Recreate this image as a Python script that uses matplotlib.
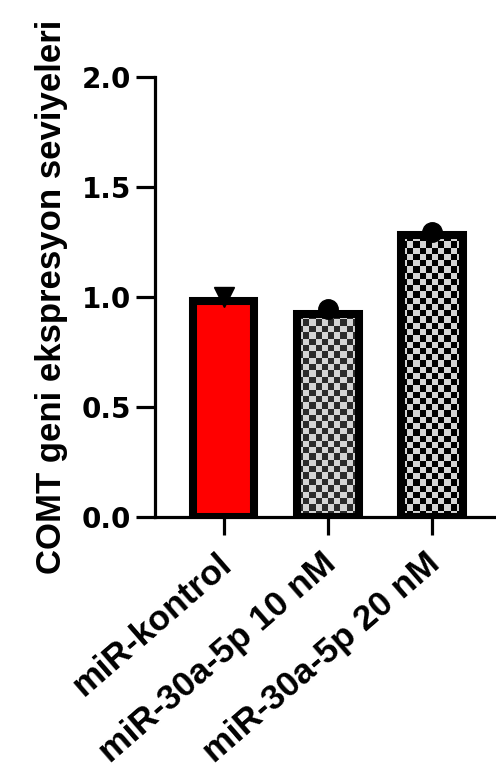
import numpy as np
import matplotlib
matplotlib.use("Agg")
import matplotlib.pyplot as plt
from matplotlib.colors import ListedColormap
from matplotlib.transforms import ScaledTranslation

# data
groups = ["miR-kontrol", "miR-30a-5p 10 nM", "miR-30a-5p 20 nM"]
bar_heights = [0.98, 0.925, 1.28]
points = [1.0, 0.945, 1.295]
point_markers = ["v", "o", "o"]
yticks = [0.0, 0.5, 1.0, 1.5, 2.0]
ylabel = "COMT geni ekspresyon seviyeleri"

fig = plt.figure(figsize=(4.96, 7.71), dpi=100)
ax = fig.add_axes([155 / 496, 254 / 771, 341 / 496, 440 / 771])

x = np.arange(len(groups))
ax.set_xlim(-0.66, 2.615)
ax.set_ylim(0, 2.0)

faces = ["#ff0000", "none", "none"]
bars = ax.bar(x, bar_heights, width=0.59, color=faces, edgecolor="black",
              linewidth=5.8, zorder=3)

# checkerboard fills for the two miR-30a-5p bars
checks = {1: ("#d4d4d4", "#2b2b2b"), 2: ("#d4d4d4", "#000000")}
fig.canvas.draw()
for i, (light, dark) in checks.items():
    b = bars[i]
    x0, x1 = b.get_x(), b.get_x() + b.get_width()
    h = b.get_height()
    p0 = ax.transData.transform((x0, 0))
    p1 = ax.transData.transform((x1, h))
    sq = 6.3
    nx = max(1, int(round((p1[0] - p0[0]) / sq)))
    ny = max(1, int(round((p1[1] - p0[1]) / sq)))
    yy, xx = np.indices((ny, nx))
    board = (xx + yy) % 2
    im = ax.imshow(board, cmap=ListedColormap([light, dark]), extent=(x0, x1, 0, h),
                   aspect="auto", interpolation="nearest", origin="lower", zorder=2)
    im.set_clip_path(b)

for xi, yi, m in zip(x, points, point_markers):
    ax.plot(xi, yi, marker=m, color="black", markersize=15 if m == "v" else 14,
            linestyle="none", zorder=4, clip_on=False)

ax.set_xlim(-0.66, 2.615)
ax.set_ylim(0, 2.0)

for s in ["top", "right"]:
    ax.spines[s].set_visible(False)
for s in ["left", "bottom"]:
    ax.spines[s].set_linewidth(2.3)

ax.set_yticks(yticks)
ax.set_yticklabels([f"{v:.1f}" for v in yticks], fontsize=20, fontweight="bold",
                   family="DejaVu Sans")
ax.tick_params(axis="y", length=14, width=2.3, pad=3)
ax.tick_params(axis="x", length=13, width=2.3, pad=4)

ax.set_xticks(x)
ax.set_xticklabels(groups, rotation=41, ha="right", rotation_mode="anchor",
                   fontsize=25.5, fontweight="bold", family=["Liberation Sans", "DejaVu Sans"])
shift = ScaledTranslation(-7 / 100, -6 / 100, fig.dpi_scale_trans)
for lbl in ax.get_xticklabels():
    lbl.set_transform(lbl.get_transform() + shift)

ax.set_ylabel(ylabel, fontsize=25, fontweight="bold",
              family=["Liberation Sans Narrow", "Liberation Sans", "DejaVu Sans"], labelpad=10)

fig.savefig("out.png", dpi=100)
